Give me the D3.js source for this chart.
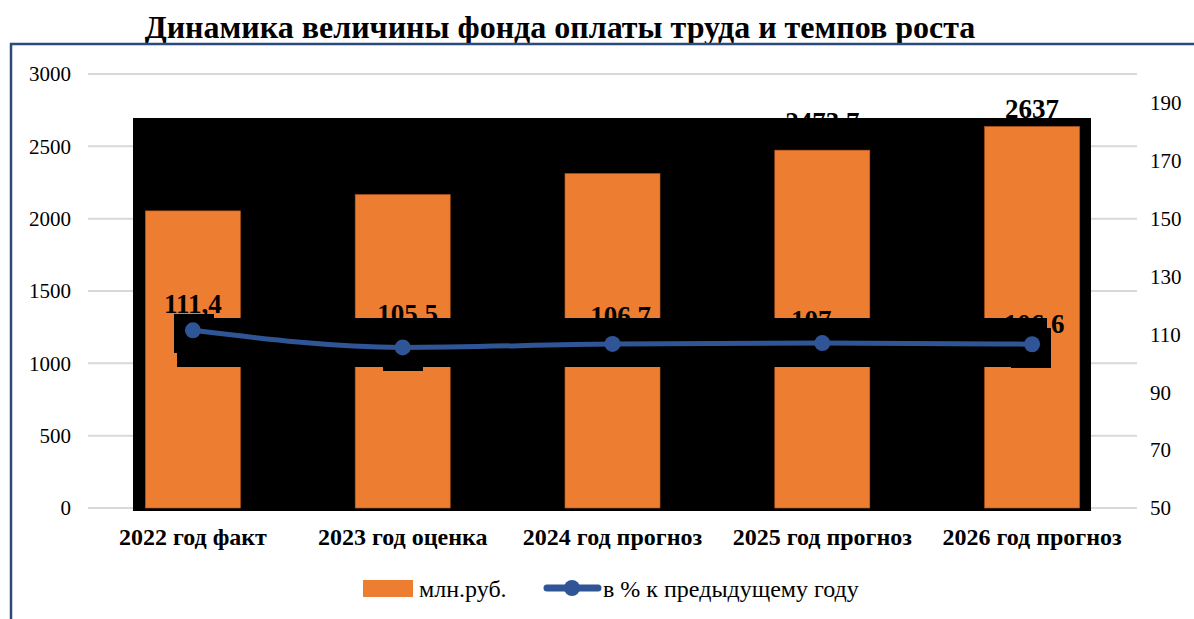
<!DOCTYPE html>
<html>
<head>
    <meta charset="UTF-8">
    <title>Динамика величины фонда оплаты труда</title>
    <script src="https://cdn.jsdelivr.net/npm/d3@7"></script>
    <style>
        html, body {
            margin: 0;
            background: #fff;
        }
    </style>
</head>
<body>
    <div id="vis"></div>
    <script>
        // data
        var categories = ["2022 год факт", "2023 год оценка", "2024 год прогноз", "2025 год прогноз", "2026 год прогноз"];
        var fundValues = [2053.8, 2166.7, 2311.9, 2473.7, 2637];
        var growthValues = [111.4, 105.5, 106.7, 107, 106.6];
        var leftTicks = [0, 500, 1000, 1500, 2000, 2500, 3000];
        var rightTicks = [50, 70, 90, 110, 130, 150, 170, 190];
        var legendNames = ["млн.руб.", "в % к предыдущему году"];

        // label nudges (layout only)
        var barLabelDy = [-12, -12, -12, -19, -9];
        var lineLabelDx = [0, 5, 8, -11, 2];
        var lineLabelDy = [-17, -24, -19, -14, -11];

        var W = 1194, H = 619;
        var plot = {left: 88, right: 1137, top: 74, bottom: 508};
        var FONT = "'Liberation Serif'";

        var ru = d3.formatLocale({decimal: ",", thousands: "", grouping: [3], currency: ["", ""]});
        var fmt = ru.format(".1~f");

        var svg = d3.select('#vis')
            .append('svg')
                .attr('width', W)
                .attr('height', H);

        var x = d3.scaleBand()
            .domain(categories)
            .range([plot.left, plot.right])
            .paddingInner(0.547)
            .paddingOuter(0.2735);

        var yL = d3.scaleLinear().domain([0, 3000]).range([plot.bottom, plot.top]);
        var yR = d3.scaleLinear().domain([50, 200]).range([plot.bottom, plot.top]);

        function cx(i) { return x(categories[i]) + x.bandwidth() / 2; }

        // title
        svg.append('text')
            .attr('x', 560)
            .attr('y', 38)
            .attr('text-anchor', 'middle')
            .style('font-family', FONT)
            .style('font-size', '32px')
            .style('font-weight', 'bold')
            .text('Динамика величины фонда оплаты труда и темпов роста');

        // frame
        svg.append('path')
            .attr('d', 'M11,619 V44 H1194')
            .attr('fill', 'none')
            .attr('stroke', '#2c4a7a')
            .attr('stroke-width', 2.5);

        // gridlines
        svg.append('g')
            .selectAll('line')
            .data(leftTicks)
            .enter().append('line')
                .attr('x1', plot.left)
                .attr('x2', plot.right)
                .attr('y1', function(d) { return yL(d); })
                .attr('y2', function(d) { return yL(d); })
                .attr('stroke', '#d9d9d9')
                .attr('stroke-width', 2);

        // left axis
        var axisL = svg.append('g')
            .attr('transform', 'translate(' + (plot.left - 17) + ',0)')
            .call(d3.axisLeft(yL).tickValues(leftTicks).tickFormat(d3.format('d')).tickSize(0).tickPadding(0));
        axisL.select('.domain').remove();
        axisL.selectAll('text')
            .style('font-family', FONT)
            .style('font-size', '21px')
            .attr('fill', '#000');

        // right axis
        var axisR = svg.append('g')
            .attr('transform', 'translate(' + (plot.right + 13) + ',0)')
            .call(d3.axisRight(yR).tickValues(rightTicks).tickFormat(d3.format('d')).tickSize(0).tickPadding(0));
        axisR.select('.domain').remove();
        axisR.selectAll('text')
            .style('font-family', FONT)
            .style('font-size', '21px')
            .attr('fill', '#000');

        // black plot background (as in the source rendering)
        svg.append('rect')
            .attr('x', 133)
            .attr('y', 118)
            .attr('width', 1091 - 133)
            .attr('height', 511 - 118)
            .attr('fill', '#000');

        // bars
        svg.append('g')
            .selectAll('rect')
            .data(fundValues)
            .enter().append('rect')
                .attr('x', function(d, i) { return x(categories[i]); })
                .attr('y', function(d) { return yL(d); })
                .attr('width', x.bandwidth())
                .attr('height', function(d) { return yL(0) - yL(d); })
                .attr('fill', '#ed7d31')
                .attr('stroke', '#b8571c')
                .attr('stroke-width', 0.6);

        // black boxes behind line labels
        var boxes = [
            [174, 318, 1047, 367],
            [174, 314, 214, 318],
            [1047, 328, 1051, 368],
            [383, 366, 423, 371],
            [1011, 366, 1051, 368]
        ];
        svg.append('g')
            .selectAll('rect')
            .data(boxes)
            .enter().append('rect')
                .attr('x', function(d) { return d[0]; })
                .attr('y', function(d) { return d[1]; })
                .attr('width', function(d) { return d[2] - d[0]; })
                .attr('height', function(d) { return d[3] - d[1]; })
                .attr('fill', '#000');
        svg.append('rect')
            .attr('x', 174).attr('y', 353).attr('width', 3).attr('height', 14)
            .attr('fill', '#ed7d31');

        // bar labels
        svg.append('g')
            .selectAll('text')
            .data(fundValues)
            .enter().append('text')
                .attr('x', function(d, i) { return cx(i); })
                .attr('y', function(d, i) { return yL(d) + barLabelDy[i]; })
                .attr('text-anchor', 'middle')
                .style('font-family', FONT)
                .style('font-size', '27px')
                .style('font-weight', 'bold')
                .text(function(d) { return fmt(d); });

        // line
        var line = d3.line()
            .x(function(d, i) { return cx(i); })
            .y(function(d) { return yR(d); })
            .curve(d3.curveMonotoneX);

        svg.append('path')
            .datum(growthValues)
            .attr('d', line)
            .attr('fill', 'none')
            .attr('stroke', '#2f5597')
            .attr('stroke-width', 5)
            .attr('stroke-linecap', 'round');

        svg.append('g')
            .selectAll('circle')
            .data(growthValues)
            .enter().append('circle')
                .attr('cx', function(d, i) { return cx(i); })
                .attr('cy', function(d) { return yR(d); })
                .attr('r', 8)
                .attr('fill', '#2f5597');

        // line labels
        svg.append('g')
            .selectAll('text')
            .data(growthValues)
            .enter().append('text')
                .attr('x', function(d, i) { return cx(i) + lineLabelDx[i]; })
                .attr('y', function(d, i) { return yR(d) + lineLabelDy[i]; })
                .attr('text-anchor', 'middle')
                .style('font-family', FONT)
                .style('font-size', '27px')
                .style('font-weight', 'bold')
                .text(function(d) { return fmt(d); });

        // category labels
        svg.append('g')
            .selectAll('text')
            .data(categories)
            .enter().append('text')
                .attr('x', function(d, i) { return cx(i); })
                .attr('y', 545)
                .attr('text-anchor', 'middle')
                .style('font-family', FONT)
                .style('font-size', '24px')
                .style('font-weight', 'bold')
                .text(function(d) { return d; });

        // legend
        var legend = svg.append('g');
        legend.append('rect')
            .attr('x', 363).attr('y', 580).attr('width', 50).attr('height', 17)
            .attr('fill', '#ed7d31');
        legend.append('text')
            .attr('x', 419).attr('y', 597)
            .style('font-family', FONT)
            .style('font-size', '24px')
            .text(legendNames[0]);
        legend.append('line')
            .attr('x1', 547).attr('x2', 598).attr('y1', 588).attr('y2', 588)
            .attr('stroke', '#2f5597').attr('stroke-width', 7).attr('stroke-linecap', 'round');
        legend.append('circle')
            .attr('cx', 572).attr('cy', 588).attr('r', 8)
            .attr('fill', '#2f5597');
        legend.append('text')
            .attr('x', 603).attr('y', 597)
            .style('font-family', FONT)
            .style('font-size', '24px')
            .text(legendNames[1]);
    </script>
</body>
</html>
